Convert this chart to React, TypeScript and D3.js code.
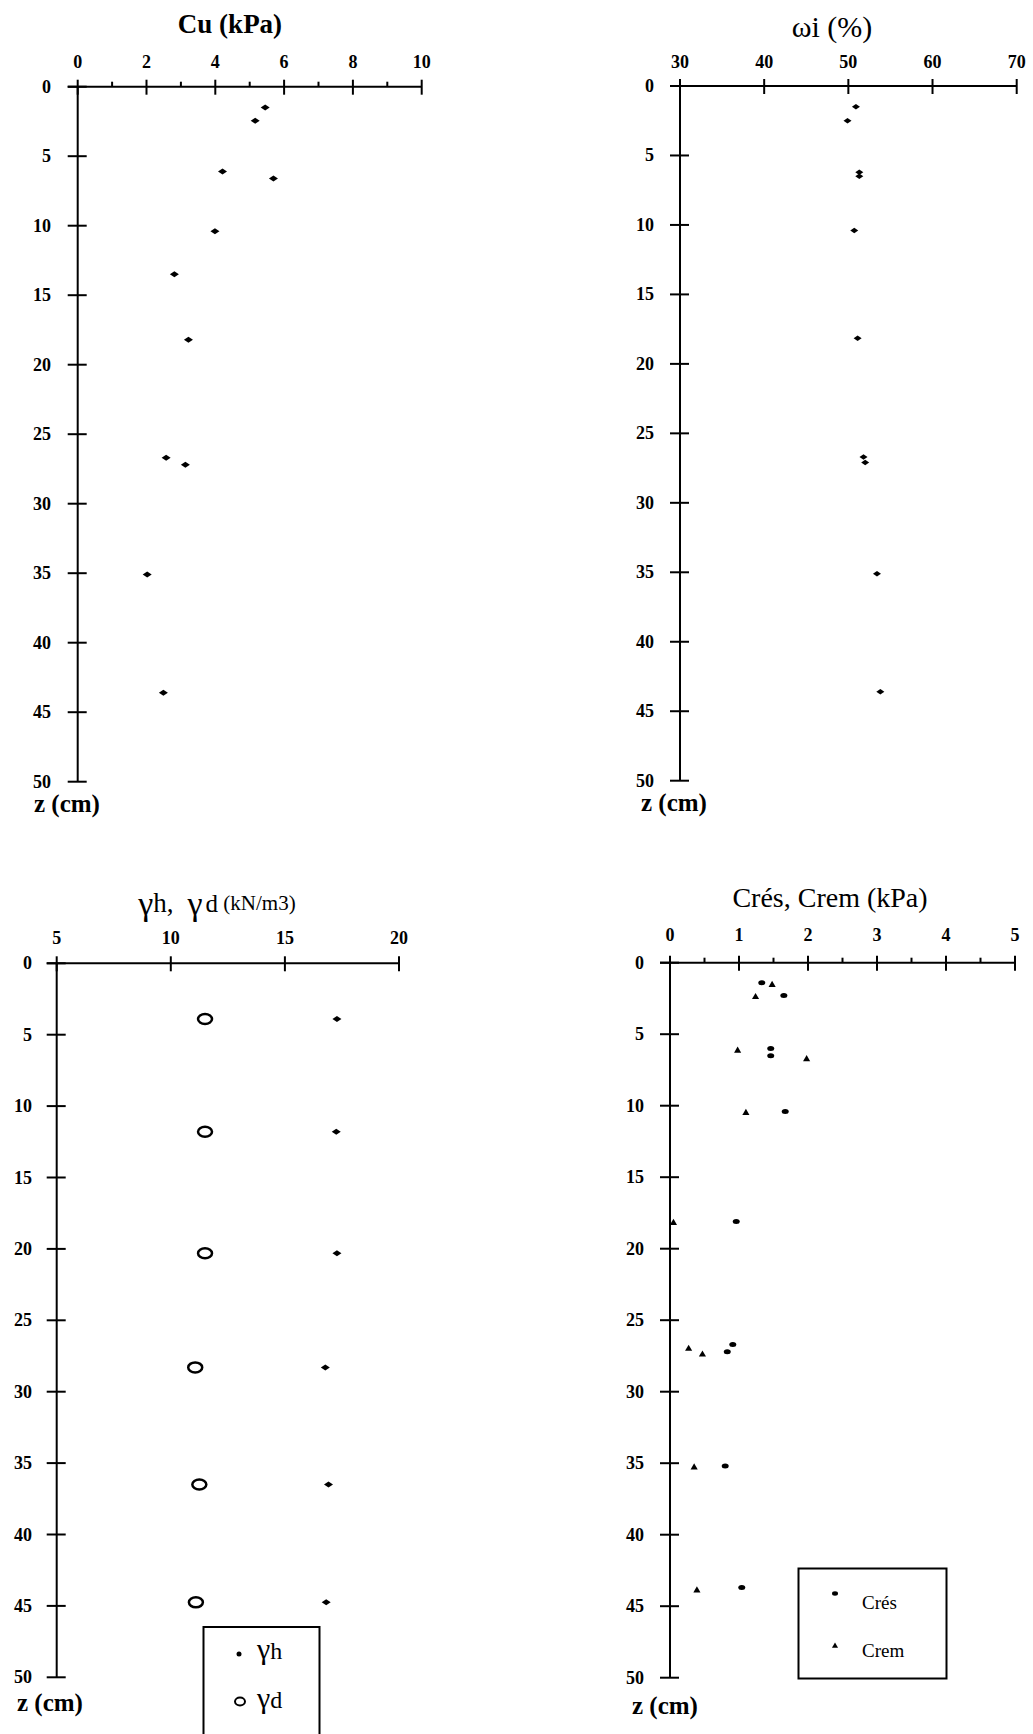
import React from "react";
import * as d3 from "d3";

// ---------- data ----------
const depthTicks = [0, 5, 10, 15, 20, 25, 30, 35, 40, 45, 50];

// Panel 1: Cu (kPa)
const cuTicks = [0, 2, 4, 6, 8, 10];
const cuMinor = [1, 3, 5, 7, 9];
const cuValues = [5.45, 5.16, 4.21, 5.69, 3.99, 2.81, 3.22, 2.57, 3.13, 2.02, 2.49];
const cuDepth = [1.5, 2.45, 6.1, 6.6, 10.4, 13.5, 18.2, 26.7, 27.2, 35.1, 43.6];

// Panel 2: wi (%)
const wiTicks = [30, 40, 50, 60, 70];
const wiValues = [50.9, 49.9, 51.3, 51.3, 50.7, 51.1, 51.8, 52.0, 53.4, 53.8];
const wiDepth = [1.5, 2.5, 6.2, 6.5, 10.4, 18.15, 26.7, 27.1, 35.1, 43.6];

// Panel 3: gamma h, gamma d (kN/m3)
const gTicks = [5, 10, 15, 20];
const gDepth = [3.9, 11.8, 20.3, 28.3, 36.5, 44.75];
const gammaH = [17.28, 17.25, 17.28, 16.77, 16.91, 16.81];
const gammaD = [11.5, 11.5, 11.5, 11.07, 11.25, 11.1];

// Panel 4: Cres, Crem (kPa)
const cTicks = [0, 1, 2, 3, 4, 5];
const cMinor = [0.5, 1.5, 2.5, 3.5, 4.5];
const cresValues = [1.33, 1.65, 1.46, 1.46, 1.67, 0.96, 0.91, 0.83, 0.8, 1.04];
const cresDepth = [1.4, 2.3, 6.0, 6.5, 10.4, 18.1, 26.7, 27.2, 35.2, 43.7];
const cremValues = [1.48, 1.24, 0.98, 1.98, 1.1, 0.05, 0.27, 0.47, 0.35, 0.39];
const cremDepth = [1.55, 2.4, 6.15, 6.75, 10.5, 18.2, 27.0, 27.4, 35.3, 43.9];

const SERIF = "'Liberation Serif', 'DejaVu Serif', serif";

type AxisProps = {
  x: d3.ScaleLinear<number, number>;
  y: d3.ScaleLinear<number, number>;
  xTicks: number[];
  xMinor?: number[];
  yLabelRight: number;
  xLabelY: number;
  zLabel: { x: number; y: number };
};

function Axes({ x, y, xTicks, xMinor = [], yLabelRight, xLabelY, zLabel }: AxisProps) {
  const x0 = x(x.domain()[0]);
  const x1 = x(x.domain()[1]);
  const y0 = y(0);
  const y1 = y(50);
  return (
    <g stroke="#000" strokeWidth={2} fill="none">
      <line x1={x0 - 10} x2={x1} y1={y0} y2={y0} />
      <line x1={x0} x2={x0} y1={y0} y2={y1} />
      {xTicks.map((t) => (
        <line key={"xt" + t} x1={x(t)} x2={x(t)} y1={y0 - 7} y2={y0 + 8} />
      ))}
      {xMinor.map((t) => (
        <line key={"xm" + t} x1={x(t)} x2={x(t)} y1={y0 - 5} y2={y0} />
      ))}
      {depthTicks.map((t) => (
        <line key={"yt" + t} x1={x0 - 10} x2={x0 + 9} y1={y(t)} y2={y(t)} />
      ))}
      <g stroke="none" fill="#000" fontFamily={SERIF} fontWeight="bold" fontSize={18}>
        {xTicks.map((t) => (
          <text key={"xl" + t} x={x(t)} y={xLabelY} textAnchor="middle" dominantBaseline="central">
            {t}
          </text>
        ))}
        {depthTicks.map((t) => (
          <text key={"yl" + t} x={yLabelRight} y={y(t)} textAnchor="end" dominantBaseline="central">
            {t}
          </text>
        ))}
        <text x={zLabel.x} y={zLabel.y} fontSize={25} dominantBaseline="central">
          z (cm)
        </text>
      </g>
    </g>
  );
}

const diamond = (cx: number, cy: number, w: number, h: number) =>
  `M${cx - w / 2},${cy}L${cx},${cy - h / 2}L${cx + w / 2},${cy}L${cx},${cy + h / 2}Z`;

export default function App() {
  // Panel 1
  const x1 = d3.scaleLinear().domain([0, 10]).range([77.7, 421.7]);
  const y1 = d3.scaleLinear().domain([0, 50]).range([86.7, 781.7]);
  // Panel 2
  const x2 = d3.scaleLinear().domain([30, 70]).range([680, 1016.7]);
  const y2 = d3.scaleLinear().domain([0, 50]).range([86, 780.7]);
  // Panel 3
  const x3 = d3.scaleLinear().domain([5, 20]).range([56.7, 399]);
  const y3 = d3.scaleLinear().domain([0, 50]).range([963.3, 1677.3]);
  // Panel 4
  const x4 = d3.scaleLinear().domain([0, 5]).range([670, 1015]);
  const y4 = d3.scaleLinear().domain([0, 50]).range([962.7, 1677.7]);

  const tri = d3.symbol().type(d3.symbolTriangle).size(22);

  return (
    <svg
      width={1033}
      height={1734}
      style={{ position: "absolute", left: 0, top: 0, background: "#fff" }}
    >
      <rect x={0} y={0} width={1033} height={1734} fill="#fff" />

      {/* Panel 1: Cu */}
      <text x={230} y={24} textAnchor="middle" dominantBaseline="central" fontFamily={SERIF} fontWeight="bold" fontSize={27}>
        Cu (kPa)
      </text>
      <Axes x={x1} y={y1} xTicks={cuTicks} xMinor={cuMinor} yLabelRight={51} xLabelY={62} zLabel={{ x: 34, y: 803 }} />
      {cuValues.map((v, i) => (
        <path key={"cu" + i} d={diamond(x1(v), y1(cuDepth[i]), 9, 6)} fill="#000" />
      ))}

      {/* Panel 2: wi */}
      <text x={832} y={26} textAnchor="middle" dominantBaseline="central" fontFamily={SERIF} fontSize={30}>
        ωi (%)
      </text>
      <Axes x={x2} y={y2} xTicks={wiTicks} yLabelRight={654} xLabelY={62} zLabel={{ x: 641, y: 802 }} />
      {wiValues.map((v, i) => (
        <path key={"wi" + i} d={diamond(x2(v), y2(wiDepth[i]), 8, 5.5)} fill="#000" />
      ))}

      {/* Panel 3: gamma */}
      <text x={217} y={903} textAnchor="middle" dominantBaseline="central" fontFamily={SERIF}>
        <tspan fontSize={34}>γ</tspan>
        <tspan fontSize={27}>h,</tspan>
        <tspan fontSize={34} dx={14}>γ</tspan>
        <tspan fontSize={25} dx={3}>d</tspan>
        <tspan fontSize={21}> (kN/m3)</tspan>
      </text>
      <Axes x={x3} y={y3} xTicks={gTicks} yLabelRight={32} xLabelY={938} zLabel={{ x: 17, y: 1702 }} />
      {gammaD.map((v, i) => (
        <ellipse key={"gd" + i} cx={x3(v)} cy={y3(gDepth[i])} rx={7} ry={5} fill="none" stroke="#000" strokeWidth={2.5} />
      ))}
      {gammaH.map((v, i) => (
        <path key={"gh" + i} d={diamond(x3(v), y3(gDepth[i]), 9, 6)} fill="#000" />
      ))}
      <rect x={203.5} y={1627} width={116} height={110} fill="none" stroke="#000" strokeWidth={2} />
      <circle cx={239} cy={1654} r={2.5} fill="#000" />
      <text x={257} y={1659} fontFamily={SERIF} fontSize={30}>
        <tspan>γ</tspan>
        <tspan fontSize={24}>h</tspan>
      </text>
      <ellipse cx={240} cy={1701.5} rx={5} ry={4} fill="none" stroke="#000" strokeWidth={2} />
      <text x={257} y={1708} fontFamily={SERIF} fontSize={30}>
        <tspan>γ</tspan>
        <tspan fontSize={24}>d</tspan>
      </text>

      {/* Panel 4: Cres, Crem */}
      <text x={830} y={897} textAnchor="middle" dominantBaseline="central" fontFamily={SERIF} fontSize={28}>
        Crés, Crem (kPa)
      </text>
      <Axes x={x4} y={y4} xTicks={cTicks} xMinor={cMinor} yLabelRight={644} xLabelY={935} zLabel={{ x: 632, y: 1705 }} />
      {cresValues.map((v, i) => (
        <ellipse key={"cr" + i} cx={x4(v)} cy={y4(cresDepth[i])} rx={3.5} ry={2.5} fill="#000" />
      ))}
      {cremValues.map((v, i) => (
        <path key={"cm" + i} d={tri() as string} transform={`translate(${x4(v)},${y4(cremDepth[i])})`} fill="#000" />
      ))}
      <rect x={798.5} y={1568.5} width={148} height={110} fill="none" stroke="#000" strokeWidth={2} />
      <ellipse cx={835} cy={1593.5} rx={3} ry={2.2} fill="#000" />
      <text x={862} y={1602} dominantBaseline="central" fontFamily={SERIF} fontSize={19}>
        Crés
      </text>
      <path d={d3.symbol().type(d3.symbolTriangle).size(16)() as string} transform="translate(835,1646)" fill="#000" />
      <text x={862} y={1650} dominantBaseline="central" fontFamily={SERIF} fontSize={19}>
        Crem
      </text>
    </svg>
  );
}
